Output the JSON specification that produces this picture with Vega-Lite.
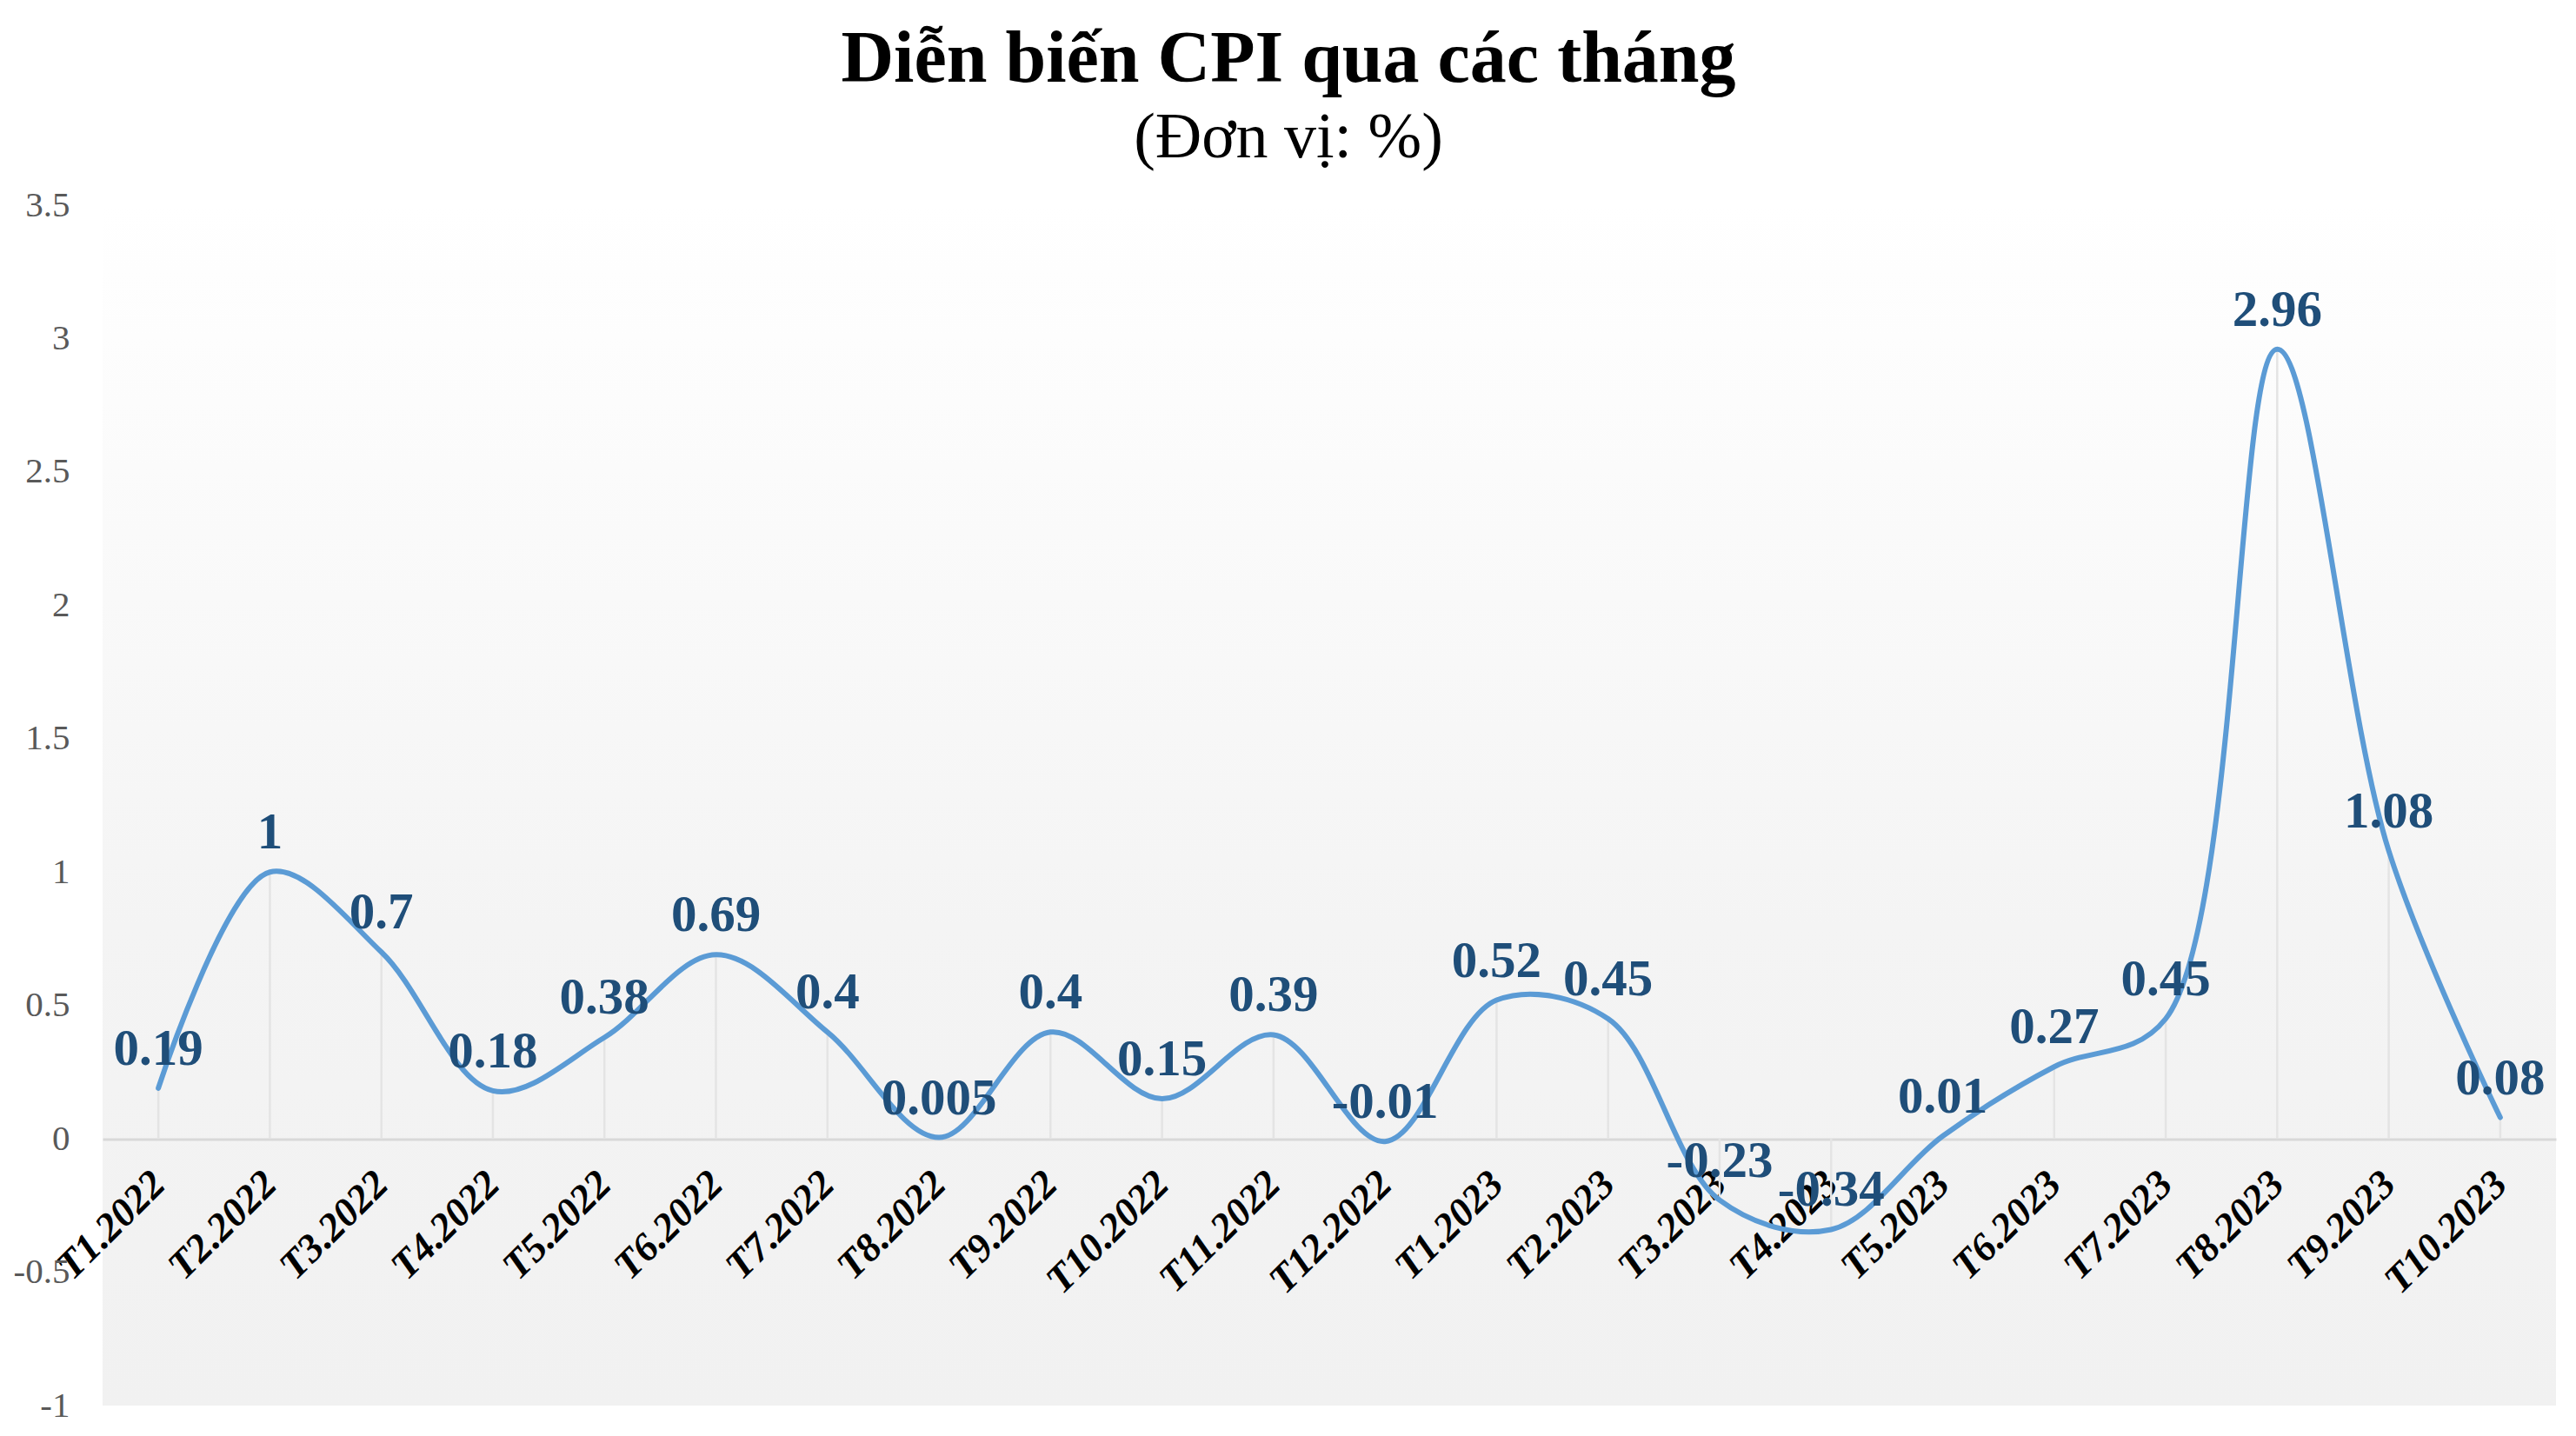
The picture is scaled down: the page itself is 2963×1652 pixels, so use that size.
{
  "$schema": "https://vega.github.io/schema/vega-lite/v6.json",
  "width": 2822,
  "height": 1381,
  "autosize": {"type": "none"},
  "padding": {"left": 118, "top": 236, "right": 23, "bottom": 35},
  "background": "#ffffff",
  "title": {
    "text": "Diễn biến CPI qua các tháng",
    "subtitle": "(Đơn vị: %)",
    "font": "Liberation Serif",
    "fontSize": 84,
    "fontWeight": "bold",
    "color": "#000000",
    "subtitleFont": "Liberation Serif",
    "subtitleFontSize": 74,
    "subtitleFontWeight": "normal",
    "subtitleColor": "#000000",
    "subtitlePadding": 11,
    "anchor": "middle",
    "frame": "group",
    "dx": -47,
    "offset": 18
  },
  "data": {
    "values": [
      {"month": "T1.2022", "cpi": 0.19},
      {"month": "T2.2022", "cpi": 1},
      {"month": "T3.2022", "cpi": 0.7},
      {"month": "T4.2022", "cpi": 0.18},
      {"month": "T5.2022", "cpi": 0.38},
      {"month": "T6.2022", "cpi": 0.69},
      {"month": "T7.2022", "cpi": 0.4},
      {"month": "T8.2022", "cpi": 0.005},
      {"month": "T9.2022", "cpi": 0.4},
      {"month": "T10.2022", "cpi": 0.15},
      {"month": "T11.2022", "cpi": 0.39},
      {"month": "T12.2022", "cpi": -0.01},
      {"month": "T1.2023", "cpi": 0.52},
      {"month": "T2.2023", "cpi": 0.45},
      {"month": "T3.2023", "cpi": -0.23},
      {"month": "T4.2023", "cpi": -0.34},
      {"month": "T5.2023", "cpi": 0.01},
      {"month": "T6.2023", "cpi": 0.27},
      {"month": "T7.2023", "cpi": 0.45},
      {"month": "T8.2023", "cpi": 2.96},
      {"month": "T9.2023", "cpi": 1.08},
      {"month": "T10.2023", "cpi": 0.08}
    ]
  },
  "encoding": {
    "x": {
      "field": "month",
      "type": "ordinal",
      "sort": null,
      "scale": {"type": "point", "padding": 0.5},
      "axis": {
        "title": null,
        "offset": -306.5,
        "ticks": false,
        "grid": false,
        "domainColor": "#d9d9d9",
        "domainWidth": 3,
        "labelFont": "Liberation Serif",
        "labelFontWeight": "bold",
        "labelFontStyle": "italic",
        "labelFontSize": 46,
        "labelColor": "#000000",
        "labelAngle": -45,
        "labelAlign": "right",
        "labelBaseline": "middle",
        "labelPadding": 44,
        "labelOverlap": false,
        "labelBound": false
      }
    },
    "y": {
      "field": "cpi",
      "type": "quantitative",
      "scale": {"domain": [-1, 3.5], "nice": false, "zero": false},
      "axis": {
        "title": null,
        "values": [-1, -0.5, 0, 0.5, 1, 1.5, 2, 2.5, 3, 3.5],
        "format": "~g",
        "domain": false,
        "ticks": false,
        "grid": false,
        "labelFont": "Liberation Serif",
        "labelFontSize": 41,
        "labelColor": "#595959",
        "labelPadding": 38,
        "labelOverlap": false,
        "labelBound": false
      }
    }
  },
  "layer": [
    {
      "mark": {"type": "rule", "color": "#e4e4e4", "strokeWidth": 2.5},
      "encoding": {"y2": {"datum": 0}}
    },
    {
      "mark": {"type": "line", "interpolate": "catmull-rom", "color": "#5b9bd5", "strokeWidth": 6, "strokeCap": "round"}
    },
    {
      "mark": {
        "type": "text",
        "font": "Liberation Serif",
        "fontWeight": "bold",
        "fontSize": 59,
        "color": "#1f4e79",
        "baseline": "alphabetic",
        "align": "center",
        "dy": -27
      },
      "encoding": {"text": {"field": "cpi", "type": "nominal"}}
    }
  ],
  "config": {
    "locale": {"number": {"decimal": ".", "thousands": ",", "grouping": [3], "currency": ["$", ""], "minus": "-"}},
    "view": {
      "stroke": null,
      "fill": {
        "gradient": "linear",
        "x1": 0, "y1": 0, "x2": 0, "y2": 1,
        "stops": [
          {"offset": 0, "color": "#ffffff"},
          {"offset": 0.6, "color": "#f4f4f4"},
          {"offset": 1, "color": "#f1f1f1"}
        ]
      }
    }
  }
}
